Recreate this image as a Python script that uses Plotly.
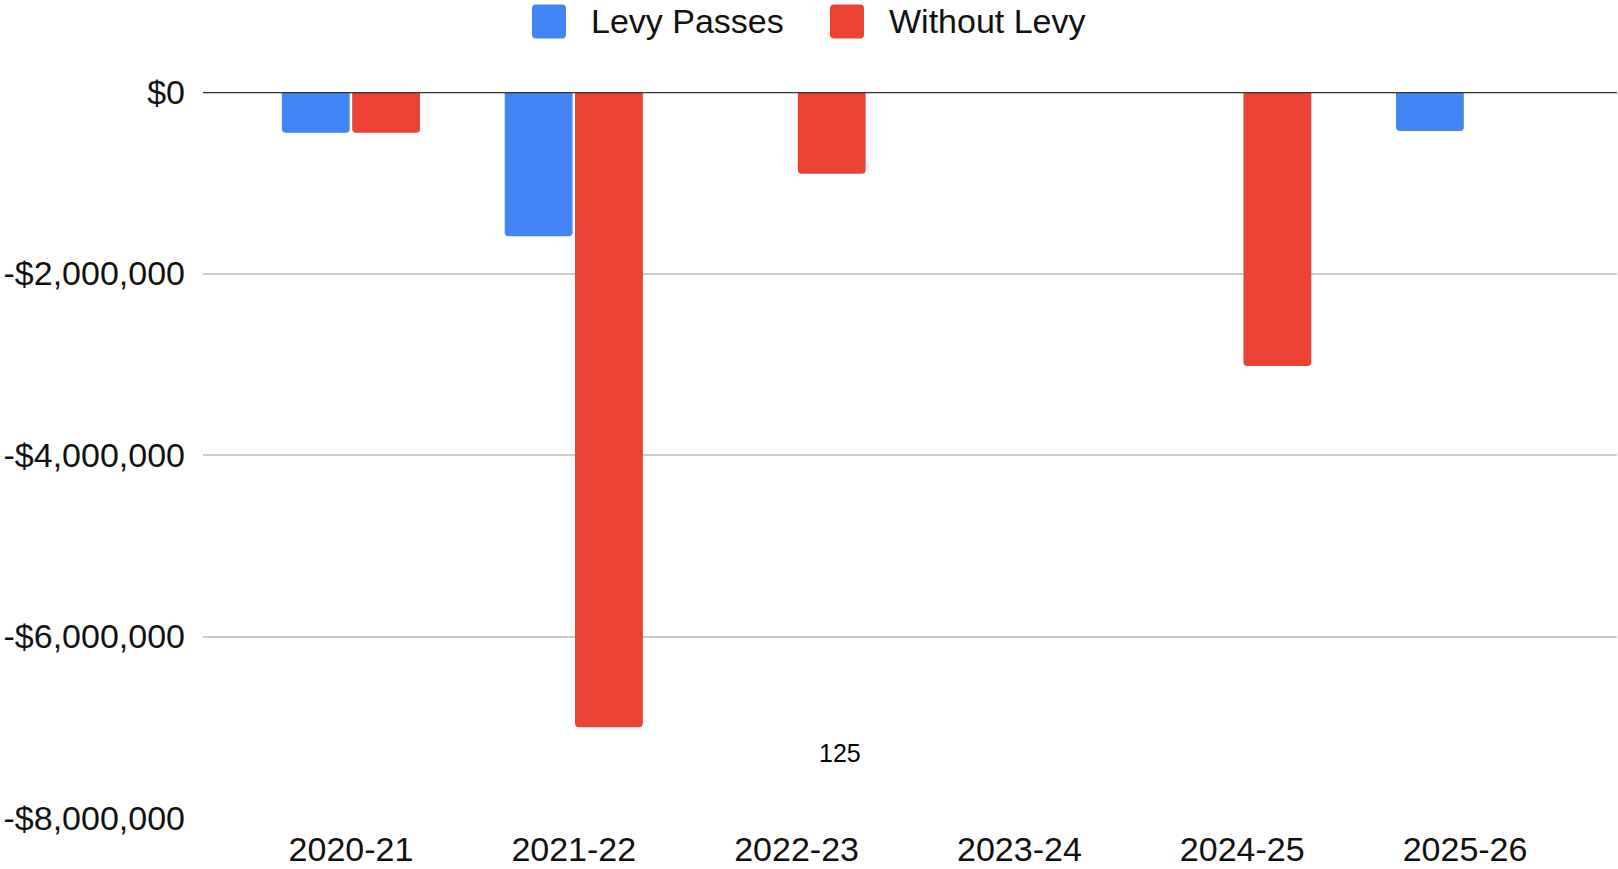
import plotly.graph_objects as go

# Fiscal years and projected balances (USD)
years = ["2020-21", "2021-22", "2022-23", "2023-24", "2024-25", "2025-26"]
levy_passes = [-450000, -1590000, 0, 0, 0, -430000]
without_levy = [-450000, -7000000, -900000, 0, -3020000, 0]

series_names = ["Levy Passes", "Without Levy"]
series_colors = ["#4285F4", "#EA4335"]

y_ticks = [0, -2000000, -4000000, -6000000, -8000000]


def money(v):
    s = "${:,.0f}".format(abs(v))
    return "-" + s if v < 0 else s


W, H = 1618, 869
ML, MR, MT, MB = 203, 1, 91.5, 51
PW, PH = W - ML - MR, H - MT - MB


def px(x):
    return (x - ML) / PW


def py(y):
    return (H - MB - y) / PH


FONT = "Liberation Sans, Arial, Helvetica, sans-serif"
TEXT = "#111111"
FS = 34

fig = go.Figure()
for name, vals, col in zip(series_names, [levy_passes, without_levy], series_colors):
    fig.add_trace(go.Bar(
        x=years, y=vals, name=name,
        marker=dict(color=col, line=dict(width=0), cornerradius=4),
        showlegend=False,
    ))

# Baseline at zero drawn over the bars
fig.add_shape(type="line", xref="paper", yref="y", x0=0, x1=1, y0=0, y1=0,
              line=dict(color="#333333", width=2.5), layer="above")

# Legend row across the top
swatch = ("M -13,-17 L 13,-17 Q 17,-17 17,-13 L 17,13 Q 17,17 13,17 "
          "L -13,17 Q -17,17 -17,13 L -17,-13 Q -17,-17 -13,-17 Z")
legend_items = [(549, 589), (847, 887)]
for (sx, tx), name, col in zip(legend_items, series_names, series_colors):
    fig.add_shape(type="path", xref="paper", yref="paper",
                  xsizemode="pixel", ysizemode="pixel",
                  xanchor=px(sx), yanchor=py(21), path=swatch,
                  fillcolor=col, line=dict(width=0))
    fig.add_annotation(xref="paper", yref="paper", x=px(tx), y=py(20),
                       xanchor="left", yanchor="middle", showarrow=False,
                       text=name, font=dict(family=FONT, size=FS, color=TEXT))

# Page number
fig.add_annotation(xref="paper", yref="paper", x=px(839.5), y=py(752.5),
                   xanchor="center", yanchor="middle", showarrow=False,
                   text="125", font=dict(family=FONT, size=25, color="#000000"))

fig.update_layout(
    width=W, height=H,
    margin=dict(l=ML, r=MR, t=MT, b=MB, pad=0, autoexpand=False),
    paper_bgcolor="white", plot_bgcolor="white",
    barmode="group", bargap=0.369, bargroupgap=0.035,
    font=dict(family=FONT, size=FS, color=TEXT),
    xaxis=dict(range=[-0.664, 5.682], showgrid=False, zeroline=False,
               showline=False, ticks="", tickfont=dict(size=FS, color=TEXT),
               ticklabelstandoff=8, automargin=False),
    yaxis=dict(range=[-8000000, 0], tickvals=y_ticks,
               ticktext=[money(v) for v in y_ticks],
               showgrid=True, gridcolor="#CCCCCC", gridwidth=2,
               zeroline=False, showline=False, ticks="",
               tickfont=dict(size=FS, color=TEXT), ticklabelstandoff=17,
               automargin=False),
)

fig.write_html("out.html")
